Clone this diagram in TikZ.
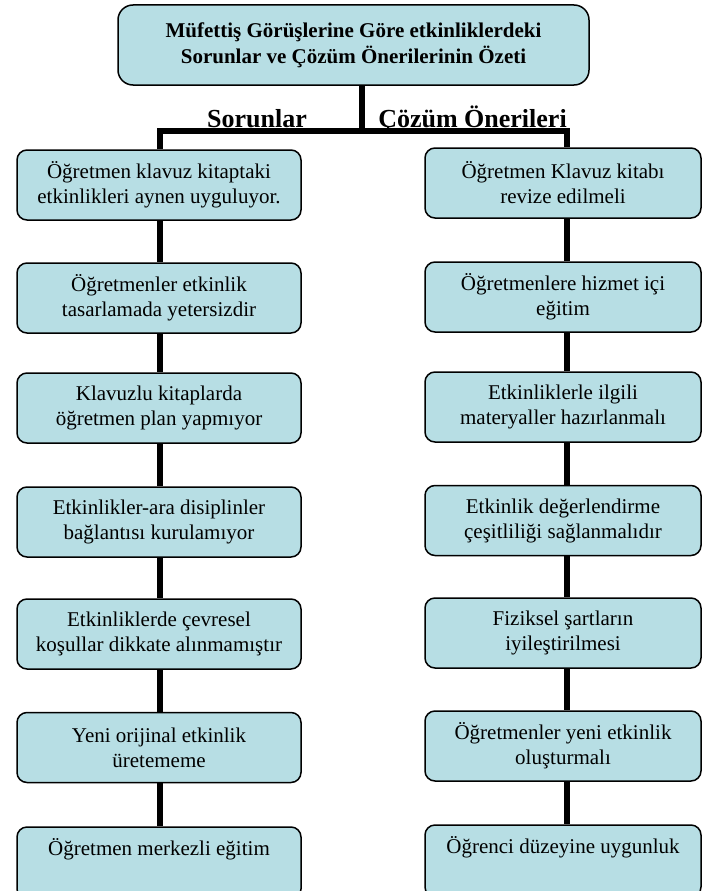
\documentclass[tikz,border=0pt]{standalone}
\usepackage{fontspec}
\setmainfont{Liberation Serif}
\definecolor{boxfill}{RGB}{183,222,228}
\begin{document}
\begin{tikzpicture}[x=1pt,y=-1pt,
  box/.style={draw=black, line width=1.5pt, rounded corners=10pt, fill=boxfill,
    minimum height=70pt, align=center, inner sep=0pt,
    font=\fontsize{21}{25}\selectfont},
  lbox/.style={box, minimum width=284pt},
  rbox/.style={box, minimum width=276pt},
  titlebox/.style={box, rounded corners=15pt, minimum width=471pt, minimum height=80pt,
    font=\fontsize{21}{26}\selectfont\bfseries},
  head/.style={anchor=base, inner sep=0pt, font=\fontsize{26}{30}\selectfont\bfseries},
  conn/.style={line width=6pt, black, line join=miter}]
\clip (0,0) rectangle (702,891);
\useasboundingbox (0,0) rectangle (702,891);

% title
\node[titlebox] (title) at (353.5,45) {Müfettiş Görüşlerine Göre etkinliklerdeki\\Sorunlar ve Çözüm Önerilerinin Özeti};

% headings
\node[head] (hs) at (257,127) {Sorunlar};
\node[head] (hc) at (472.5,127) {Çözüm Önerileri};

% left column
\node[lbox] (l1) at (159,185) {Öğretmen klavuz kitaptaki\\etkinlikleri aynen uyguluyor.};
\node[lbox] (l2) at (159,298) {Öğretmenler etkinlik\\tasarlamada yetersizdir};
\node[lbox] (l3) at (159,408) {Klavuzlu kitaplarda\\öğretmen plan yapmıyor};
\node[lbox] (l4) at (159,522) {Etkinlikler-ara disiplinler\\bağlantısı kurulamıyor};
\node[lbox] (l5) at (159,634) {Etkinliklerde çevresel\\koşullar dikkate alınmamıştır};
\node[lbox] (l6) at (159,747.5) {Yeni orijinal etkinlik\\üretememe};
\node[lbox, minimum height=72pt] (l7) at (159,863) {Öğretmen merkezli eğitim\\\strut};

% right column
\node[rbox] (r1) at (563,183) {Öğretmen Klavuz kitabı\\revize edilmeli};
\node[rbox] (r2) at (563,297) {Öğretmenlere hizmet içi\\eğitim};
\node[rbox] (r3) at (563,407) {Etkinliklerle ilgili\\materyaller hazırlanmalı};
\node[rbox] (r4) at (563,520.5) {Etkinlik değerlendirme\\çeşitliliği sağlanmalıdır};
\node[rbox] (r5) at (563,633) {Fiziksel şartların\\iyileştirilmesi};
\node[rbox] (r6) at (563,746) {Öğretmenler yeni etkinlik\\oluşturmalı};
\node[rbox, minimum height=72pt] (r7) at (563,861) {Öğrenci düzeyine uygunluk\\\strut};

% connector coordinates
\coordinate (tx) at (362,131);
\coordinate (bl) at (160,131);
\coordinate (br) at (567,131);

\draw[conn] (tx |- title.south) -- (tx);
\draw[conn] (l1.north -| bl) -- (bl) -- (br) -- (r1.north -| br);

\foreach \a/\b in {1/2,2/3,3/4,4/5,5/6,6/7}{
  \draw[conn] (l\a.south -| bl) -- (l\b.north -| bl);
  \draw[conn] (r\a.south -| br) -- (r\b.north -| br);
}
\end{tikzpicture}
\end{document}
